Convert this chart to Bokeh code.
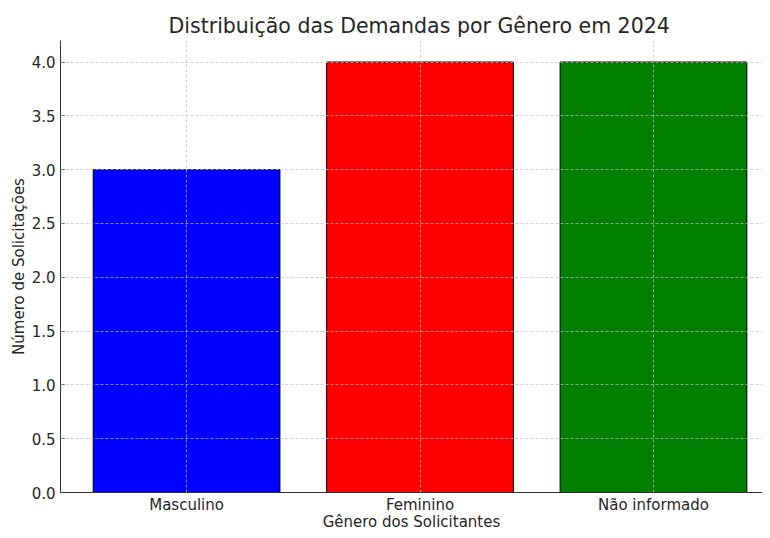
from bokeh.plotting import figure
from bokeh.models import Range1d, FixedTicker, NumeralTickFormatter, ColumnDataSource
from bokeh.embed import file_html
from bokeh.resources import INLINE

categories = ["Masculino", "Feminino", "Não informado"]
counts = [3, 4, 4]
bar_colors = ["#0000ff", "#ff0000", "#008000"]
y_ticks = [0.0, 0.5, 1.0, 1.5, 2.0, 2.5, 3.0, 3.5, 4.0]

positions = list(range(len(categories)))
source = ColumnDataSource(dict(x=positions, top=counts, color=bar_colors, cat=categories))

FONT = "DejaVu Sans"
TXT = "#262626"

p = figure(frame_width=702, frame_height=452, output_backend="svg", toolbar_location=None,
           x_range=Range1d(-0.54, 2.467), y_range=Range1d(0, 4.2),
           min_border_left=60, min_border_right=0, min_border_top=40, min_border_bottom=30)

p.vbar(x="x", top="top", width=0.8, bottom=0, fill_color="color",
       line_color="black", line_width=1, source=source)

p.title.text = "Distribuição das Demandas por Gênero em 2024"
p.title.align = "left"
p.title.text_font = FONT
p.title.text_font_size = "20.5px"
p.title.text_font_style = "normal"
p.title.text_color = TXT
p.title.offset = 108
p.title.standoff = 5

p.outline_line_color = None

p.xaxis.ticker = FixedTicker(ticks=positions)
p.xaxis.major_label_overrides = {i: c for i, c in zip(positions, categories)}
p.yaxis.ticker = FixedTicker(ticks=y_ticks)
p.yaxis.formatter = NumeralTickFormatter(format="0.0")

p.xaxis.axis_label = "Gênero dos Solicitantes"
p.yaxis.axis_label = "Número de Solicitações"

for ax in (p.xaxis[0], p.yaxis[0]):
    ax.axis_label_text_font = FONT
    ax.axis_label_text_font_size = "15px"
    ax.axis_label_text_font_style = "normal"
    ax.axis_label_text_color = TXT
    ax.major_label_text_font = FONT
    ax.major_label_text_font_size = "15px"
    ax.major_label_text_color = TXT
    ax.axis_line_color = "#333333"
    ax.axis_line_width = 1
    ax.major_tick_line_color = "#333333"
    ax.major_tick_in = 4
    ax.major_tick_out = 0
    ax.minor_tick_line_color = None

p.xaxis.major_label_standoff = 3
p.xaxis.axis_label_standoff = -4
p.yaxis.major_label_standoff = 5
p.yaxis.axis_label_standoff = 1

for g in (p.xgrid[0], p.ygrid[0]):
    g.grid_line_color = "#c0c0c0"
    g.grid_line_alpha = 0.7
    g.grid_line_dash = "3 2"
    g.level = "overlay"
p.xgrid.ticker = FixedTicker(ticks=positions)
p.ygrid.ticker = FixedTicker(ticks=y_ticks)

open("out.html", "w").write(file_html(p, INLINE))
